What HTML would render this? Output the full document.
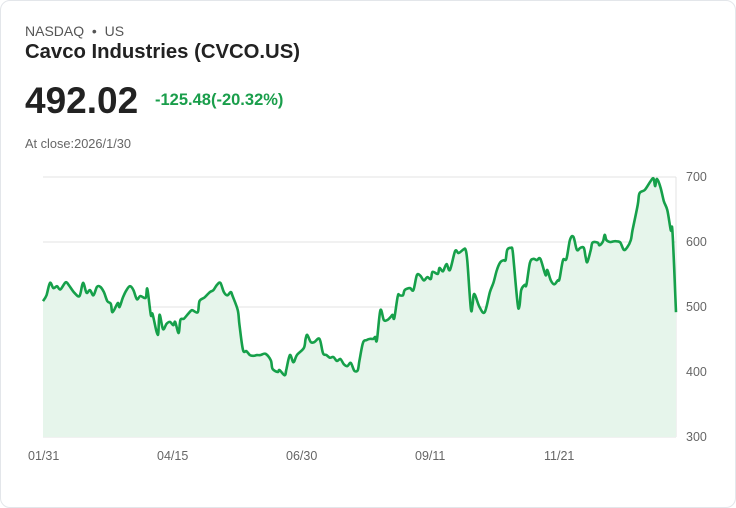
<!DOCTYPE html>
<html><head><meta charset="utf-8"><style>
body{margin:0;background:#fff;font-family:"Liberation Sans",sans-serif;}
.card{position:absolute;left:0;top:0;width:734px;height:506px;border:1px solid #e3e6ea;border-radius:10px;background:#fff;}
.t{position:absolute;white-space:nowrap;}
</style></head><body>
<div class="card"></div>
<div class="t" style="left:25px;top:23px;font-size:14px;color:#555">NASDAQ &nbsp;•&nbsp; US</div>
<div class="t" style="left:25px;top:41px;font-size:20.3px;font-weight:bold;color:#222">Cavco Industries (CVCO.US)</div>
<div class="t" style="left:25px;top:80px;font-size:37px;font-weight:bold;color:#222">492.02</div>
<div class="t" style="left:155px;top:91px;font-size:16.5px;font-weight:bold;color:#1a9e4b">-125.48(-20.32%)</div>
<div class="t" style="left:25px;top:136px;font-size:12.8px;color:#666">At close:2026/1/30</div>
<svg id="chart" width="736" height="508" style="position:absolute;left:0;top:0"></svg>
<script>
const yTicks=[300,400,500,600,700];
const xLabels=["01/31","04/15","06/30","09/11","11/21"];
const days=[0,2,4,6,8,10,13,15,18,21,23,25,27,29,31,33,35,37,39,40,43,44,46,48,50,52,54,56,59,60,62,63,66,67,69,71,73,75,76,78,79,81,83,85,86,89,90,93,96,98,100,102,104,106,108,109,112,113,115,117,119,121,123,125,128,131,132,135,136,139,140,142,144,146,150,151,152,154,156,159,161,163,165,167,169,171,173,175,177,179,181,182,184,186,188,190,191,192,194,196,198,200,201,202,204,205,207,208,211,213,215,217,219,221,223,224,227,228,230,232,234,237,239,242,243,244,246,247,248,251,254,257,259,261,263,265,266,267,269,270,271,273,274,275,277,278,280,282,284,286,289,290,292,294,296,297,299,301,303,305,307,309,311,312,313,315,316,319,320,322,323,324,326,328,330,332,334,336,338,339,342,343,346,349,351,352,353,355,357,359,361,362,364];
const prices=[509,518,537,529,532,527,538,533,522,517,537,522,526,518,531,531,523,509,505,492,506,500,515,526,532,526,512,517,514,528,488,489,457,488,466,474,477,472,477,460,480,482,488,494,495,492,509,515,523,526,534,537,523,518,523,517,495,472,434,432,426,425,426,426,428,418,405,400,403,395,405,426,415,426,437,451,457,446,446,451,429,426,422,423,417,420,412,409,414,402,403,418,445,449,451,451,454,449,495,480,480,485,488,483,517,518,518,526,529,526,549,548,541,546,543,554,551,560,555,566,557,586,583,589,588,571,498,503,520,500,492,523,537,557,569,572,572,588,591,588,560,503,502,526,534,534,568,574,572,574,549,557,541,535,541,543,572,574,603,608,588,591,591,577,569,588,599,599,595,601,611,603,600,601,601,599,588,592,603,618,657,675,680,692,698,686,697,685,663,649,618,615,492];
const NS="http://www.w3.org/2000/svg";
const svg=document.getElementById('chart');
const x0=43,x1=676,yTop=177,yBot=437,dayMax=364;
const yS=v=>yBot-(v-300)/400*(yBot-yTop);
const xS=d=>x0+d/dayMax*(x1-x0);
function mk(t,a){const e=document.createElementNS(NS,t);for(const k in a)e.setAttribute(k,a[k]);svg.appendChild(e);return e;}
yTicks.forEach(v=>{
 const l=mk('line',{x1:x0,x2:x1,y1:yS(v),y2:yS(v),stroke:'#e3e3e3','stroke-width':1});
 
 
 const t=mk('text',{x:686,y:yS(v)+4,'font-size':12.5,fill:'#666','font-family':'Liberation Sans'});
 t.textContent=v;
 
 
});
const ax=mk('line',{x1:x1,x2:x1,y1:yTop,y2:yBot,stroke:'#e3e3e3'});


xLabels.forEach((s,i)=>{
 const t=mk('text',{x:28+i*129,y:460,'font-size':12.5,fill:'#666','font-family':'Liberation Sans'});
 t.textContent=s;
 
 
});
const n=Math.min(days.length,prices.length);
const pts=[];
for(let i=0;i<n;i++)pts.push([xS(days[i]),yS(prices[i])]);
let d='M'+pts[0][0].toFixed(1)+' '+pts[0][1].toFixed(1);
for(let i=0;i<n-1;i++){
 const p0=pts[Math.max(0,i-1)],p1=pts[i],p2=pts[i+1],p3=pts[Math.min(n-1,i+2)];
 const c1x=p1[0]+(p2[0]-p0[0])/6,c1y=p1[1]+(p2[1]-p0[1])/6;
 const c2x=p2[0]-(p3[0]-p1[0])/6,c2y=p2[1]-(p3[1]-p1[1])/6;
 d+=` C${c1x.toFixed(1)} ${c1y.toFixed(1)} ${c2x.toFixed(1)} ${c2y.toFixed(1)} ${p2[0].toFixed(1)} ${p2[1].toFixed(1)}`;
}
const area=mk('path',{d:d+` L${pts[n-1][0]} ${yBot} L${x0} ${yBot} Z`,fill:'#e6f5eb'});


const line=mk('path',{d:d,fill:'none',stroke:'#16a04a','stroke-width':2.6,'stroke-linejoin':'round'});


</script>
</body></html>
